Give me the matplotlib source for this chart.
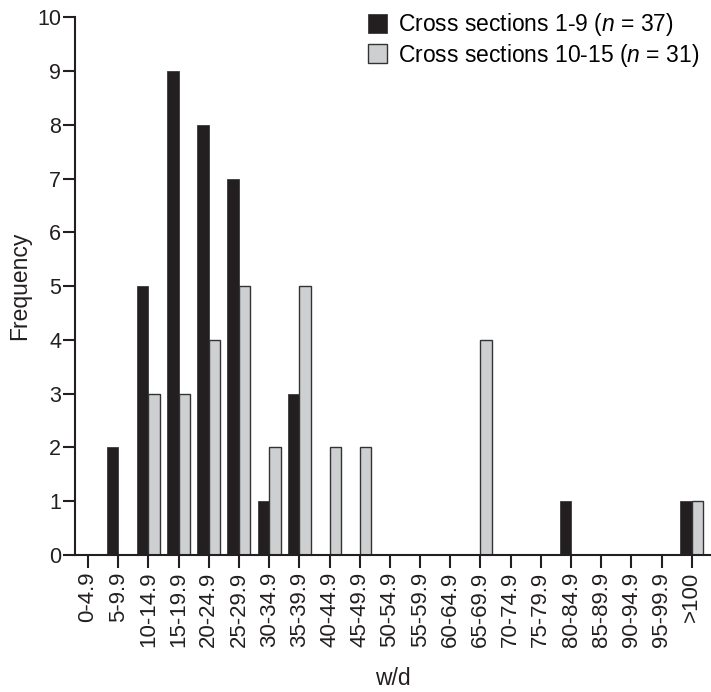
import numpy as np
import matplotlib
matplotlib.use("Agg")
import matplotlib.pyplot as plt

plt.rcParams['font.family'] = ['Liberation Sans', 'DejaVu Sans']
plt.rcParams['mathtext.fontset'] = 'custom'
plt.rcParams['mathtext.it'] = 'Liberation Sans:italic'
plt.rcParams['mathtext.rm'] = 'Liberation Sans'

# w/d classes
categories = ['0-4.9', '5-9.9', '10-14.9', '15-19.9', '20-24.9', '25-29.9',
              '30-34.9', '35-39.9', '40-44.9', '45-49.9', '50-54.9', '55-59.9',
              '60-64.9', '65-69.9', '70-74.9', '75-79.9', '80-84.9', '85-89.9',
              '90-94.9', '95-99.9', '>100']
sections_1_9 = [0, 2, 5, 9, 8, 7, 1, 3, 0, 0, 0, 0, 0, 0, 0, 0, 1, 0, 0, 0, 1]
sections_10_15 = [0, 0, 3, 3, 4, 5, 2, 5, 2, 2, 0, 0, 0, 4, 0, 0, 0, 0, 0, 0, 1]
labels = [r'Cross sections 1-9 ($\mathit{n}$ = 37)',
          r'Cross sections 10-15 ($\mathit{n}$ = 31)']

fig = plt.figure(figsize=(7.11, 6.92), dpi=100)
ax = fig.add_axes([0.1055, 0.198, 0.893, 0.777])

x = np.arange(len(categories))
w = 0.38
ax.bar(x, sections_1_9, width=-w, align='edge', color='#231f20',
       edgecolor='#3a3a3a', linewidth=0.6, label=labels[0])
ax.bar(x, sections_10_15, width=w, align='edge', color='#cdcfd1',
       edgecolor='#333333', linewidth=1.0, label=labels[1])

ax.set_xlim(-0.43, 20.6)
ax.set_ylim(0, 10)
ax.set_yticks(range(0, 11))
ax.set_xticks(x)
ax.set_xticklabels(categories, rotation=90)

for s in ['top', 'right']:
    ax.spines[s].set_visible(False)
for s in ['left', 'bottom']:
    ax.spines[s].set_linewidth(1.5)
    ax.spines[s].set_color('#231f20')
ax.tick_params(axis='both', direction='out', length=9, width=1.5,
               color='#231f20', labelcolor='#231f20')
ax.tick_params(axis='y', pad=1, labelsize=15.5)
ax.tick_params(axis='x', pad=3, labelsize=16)

ax.set_xlabel('w/d', fontsize=16.5, labelpad=14, color='#231f20')
ax.set_ylabel('Frequency', fontsize=16.5, labelpad=4, color='#231f20')

ax.legend(loc='upper right', bbox_to_anchor=(0.997, 1.028), frameon=False,
          fontsize=16.5, handlelength=0.85, handleheight=0.9, handletextpad=0.45,
          labelspacing=0.15, borderaxespad=0.0)

fig.savefig('out.png', dpi=100)
